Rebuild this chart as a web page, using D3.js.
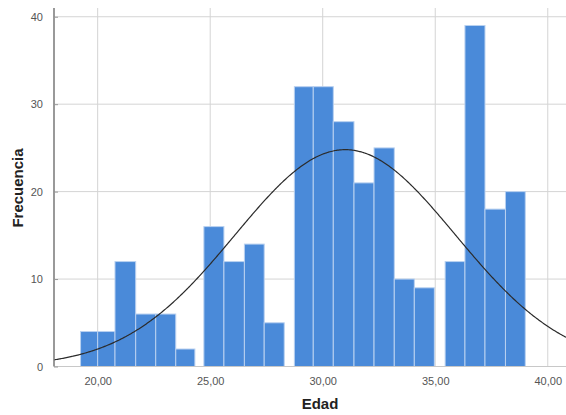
<!DOCTYPE html>
<meta charset="utf-8">
<title>Histograma Edad</title>
<style>

body {
  margin: 0;
  background: #fff;
}

svg {
  font-family: "Liberation Sans", Arial, sans-serif;
}

.grid line {
  stroke: #d4d4d4;
  stroke-width: 1;
}

.axis text {
  fill: #555;
  font-size: 11px;
}

</style>
<body>
<script src="https://d3js.org/d3.v7.min.js"></script>
<script>

// bin edges (Edad) and frequencies
var binStart = [19.24, 20.00, 20.77, 21.69, 22.58, 23.47, 24.72, 25.61, 26.52, 27.40,
                28.74, 29.58, 30.47, 31.39, 32.28, 33.18, 34.07, 35.44, 36.32, 37.21, 38.12];
var binEnd   = [20.00, 20.77, 21.69, 22.58, 23.47, 24.32, 25.61, 26.52, 27.40, 28.29,
                29.58, 30.47, 31.39, 32.28, 33.18, 34.07, 34.96, 36.32, 37.21, 38.12, 39.00];
var counts   = [4, 4, 12, 6, 6, 2, 16, 12, 14, 5,
                32, 32, 28, 21, 25, 10, 9, 12, 39, 18, 20];

var xTicks = [20, 25, 30, 35, 40];
var yTicks = [0, 10, 20, 30, 40];

// fitted normal curve
var curveMean = 31.0,
    curveSd = 4.9,
    curvePeak = 24.8;

var width = 566, height = 415;

var x = d3.scaleLinear()
    .domain([18.06, 40.81])
    .range([54, 566]);

var y = d3.scaleLinear()
    .domain([0, 41])
    .range([366.5, 8]);

var svg = d3.select("body").append("svg")
    .attr("width", width)
    .attr("height", height);

// grid
var grid = svg.append("g").attr("class", "grid");

grid.selectAll(".gx")
    .data(xTicks)
  .enter().append("line")
    .attr("x1", function(d) { return x(d); })
    .attr("x2", function(d) { return x(d); })
    .attr("y1", y.range()[1])
    .attr("y2", y(0));

grid.selectAll(".gy")
    .data(yTicks.slice(1))
  .enter().append("line")
    .attr("x1", x.range()[0])
    .attr("x2", x.range()[1])
    .attr("y1", function(d) { return y(d); })
    .attr("y2", function(d) { return y(d); });

// bars
var bins = counts.map(function(c, i) {
  return {x0: binStart[i], x1: binEnd[i], n: c};
});

svg.append("g")
  .selectAll("rect")
    .data(bins)
  .enter().append("rect")
    .attr("x", function(d) { return x(d.x0); })
    .attr("width", function(d) { return x(d.x1) - x(d.x0); })
    .attr("y", function(d) { return y(d.n); })
    .attr("height", function(d) { return y(0) - y(d.n); })
    .attr("fill", "#4a8ad9")
    .attr("stroke", "#b9d1f0")
    .attr("stroke-width", 1);

// baseline
svg.append("line")
    .attr("x1", x.range()[0])
    .attr("x2", x.range()[1])
    .attr("y1", y(0))
    .attr("y2", y(0))
    .attr("stroke", "#c8c8c8");

// normal curve
var curveX = d3.range(x.domain()[0], x.domain()[1] + 0.05, 0.05);

var line = d3.line()
    .x(function(d) { return x(d); })
    .y(function(d) {
      var z = (d - curveMean) / curveSd;
      return y(curvePeak * Math.exp(-0.5 * z * z));
    })
    .curve(d3.curveBasis);

svg.append("path")
    .datum(curveX)
    .attr("d", line)
    .attr("fill", "none")
    .attr("stroke", "#2b2b2b")
    .attr("stroke-width", 1.2);

// axes
var yAxis = d3.axisLeft(y)
    .tickValues(yTicks)
    .tickSize(-4)
    .tickPadding(11)
    .tickFormat(d3.format("d"));

var gy = svg.append("g")
    .attr("class", "axis")
    .attr("transform", "translate(" + x.range()[0] + ",0)")
    .call(yAxis);

gy.select(".domain")
    .attr("stroke", "#777")
    .attr("stroke-width", 1.5)
    .attr("d", "M0," + y.range()[1] + "V" + y(0));
gy.selectAll(".tick line").attr("stroke", "#999");

var xAxis = d3.axisBottom(x)
    .tickValues(xTicks)
    .tickSize(0)
    .tickPadding(11)
    .tickFormat(function(d) { return d3.format(".2f")(d).replace(".", ","); });

var gx = svg.append("g")
    .attr("class", "axis")
    .attr("transform", "translate(0," + y(0) + ")")
    .call(xAxis);

gx.select(".domain").remove();

// titles
svg.append("text")
    .attr("x", 320)
    .attr("y", 409)
    .attr("text-anchor", "middle")
    .attr("font-size", "15px")
    .attr("font-weight", "bold")
    .attr("fill", "#222")
    .text("Edad");

svg.append("text")
    .attr("transform", "translate(23,188) rotate(-90)")
    .attr("text-anchor", "middle")
    .attr("font-size", "15px")
    .attr("font-weight", "bold")
    .attr("fill", "#222")
    .text("Frecuencia");

</script>
